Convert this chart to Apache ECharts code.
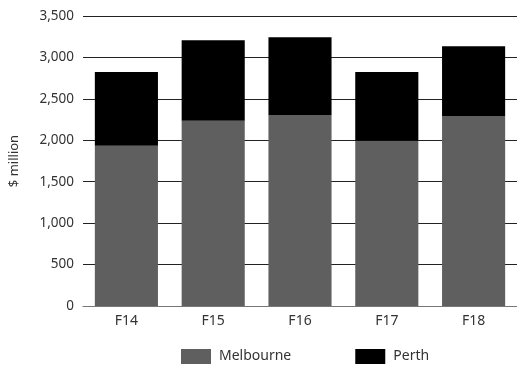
<!DOCTYPE html>
<html>
<head>
<meta charset="utf-8">
<script src="https://cdn.jsdelivr.net/npm/echarts@6/dist/echarts.min.js"></script>
<style>
  html, body { margin: 0; padding: 0; background: #fff; }
  #chart { width: 517px; height: 370px; }
</style>
</head>
<body>
<div id="chart"></div>
<script>
// Annual revenue by city, $ million
const categories = ['F14', 'F15', 'F16', 'F17', 'F18'];
const melbourne = [1935, 2236, 2305, 1995, 2293];
const perth = [888, 972, 940, 828, 843];
const yTicks = [0, 500, 1000, 1500, 2000, 2500, 3000, 3500];

const font = '"Noto Sans", sans-serif';
const chart = echarts.init(document.getElementById('chart'));

chart.setOption({
  animation: false,
  textStyle: { fontFamily: font },
  grid: { left: 79, right: -2, top: 16, bottom: 64, containLabel: false },
  legend: {
    top: 349,
    left: 181,
    padding: 0,
    itemWidth: 30,
    itemHeight: 15,
    itemGap: 64,
    icon: 'rect',
    textStyle: { fontSize: 14, color: '#333', fontFamily: font, padding: [0, 0, 0, 3] },
    data: ['Melbourne', 'Perth']
  },
  xAxis: {
    type: 'category',
    data: categories,
    axisTick: { show: false },
    axisLine: { lineStyle: { color: '#777', width: 1 } },
    axisLabel: { color: '#333', fontSize: 14, margin: 8, fontFamily: font }
  },
  yAxis: {
    type: 'value',
    min: yTicks[0],
    max: yTicks[yTicks.length - 1],
    interval: 500,
    name: '$ million',
    nameLocation: 'middle',
    nameRotate: 90,
    nameGap: 62,
    nameTextStyle: { color: '#333', fontSize: 13, fontFamily: font },
    axisLine: { show: false },
    axisTick: { show: false },
    axisLabel: {
      color: '#333',
      fontSize: 13.5,
      margin: 9,
      fontFamily: font,
      formatter: v => v.toLocaleString('en-US')
    },
    splitLine: { lineStyle: { color: '#222', width: 1 } }
  },
  series: [
    {
      name: 'Melbourne',
      type: 'bar',
      stack: 'total',
      barWidth: '72.7%',
      data: melbourne,
      itemStyle: { color: '#5f5f5f' }
    },
    {
      name: 'Perth',
      type: 'bar',
      stack: 'total',
      barWidth: '72.7%',
      data: perth,
      itemStyle: { color: '#000000' }
    }
  ]
});
</script>
</body>
</html>
